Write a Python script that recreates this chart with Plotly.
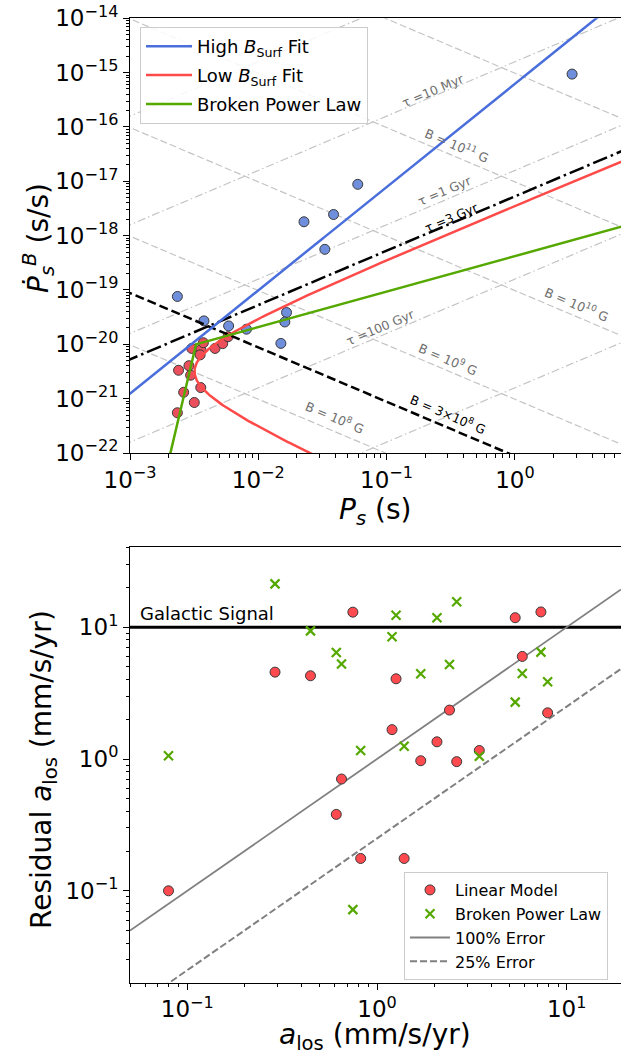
import numpy as np
import plotly.graph_objects as go

W, H = 621, 1055
FONT = "DejaVu Sans"

# ---------------- Top panel data ----------------
P_high = [2.79, 0.0596, 0.0386, 0.0227, 0.0330, 0.00234, 0.00377, 0.00587, 0.00809, 0.0166, 0.0161, 0.0150]
Pdot_high = [9.4e-16, 8.8e-18, 2.45e-18, 1.8e-18, 5.6e-19, 7.6e-20, 2.7e-20, 2.18e-20, 1.9e-20, 3.85e-20, 2.58e-20, 1.04e-20]
P_low = [3.03e-3, 3.57e-3, 3.73e-3, 3.52e-3, 4.60e-3, 5.28e-3, 5.81e-3, 2.88e-3, 2.39e-3, 2.97e-3, 3.56e-3, 2.62e-3, 3.17e-3, 2.34e-3]
Pdot_low = [8.4e-21, 8.0e-21, 1.07e-20, 6.4e-21, 8.4e-21, 1.03e-20, 1.38e-20, 4.04e-21, 3.33e-21, 2.70e-21, 1.60e-21, 1.31e-21, 8.5e-22, 5.5e-22]

# fit parameters
HIGH_LOGA, HIGH_SLOPE = -15.206, 1.9                     # Pdot = 10^A * P^slope
LOW_XC, LOW_Y0, LOW_W, LOW_T, LOW_K = -3.219, -20.467, 0.726, 0.045, 0.995  # log-space hyperbola
BPL_PK, BPL_PDK, BPL_S_LO, BPL_S_HI = 10 ** -2.485, 1e-20, 10.0, 0.653

# reference lines
B_GRID = [1e8, 1e9, 1e10, 1e11, 1e12]          # Gauss
TAU_GRID_YR = [1e5, 1e7, 1e9, 1e11, 1e13]      # years
B_REF = 3e8
TAU_REF_YR = 3e9
YR = 3.156e7

# ---------------- Bottom panel data ----------------
a_los = [0.0796, 0.29, 0.446, 0.61, 0.65, 0.746, 0.82, 1.20, 1.26, 1.39, 1.70, 2.07, 2.41, 2.63, 3.46, 5.35, 5.83, 7.31, 7.93]
resid_linear = [0.1, 4.56, 4.28, 0.38, 0.705, 13.0, 0.176, 1.67, 4.06, 0.176, 0.97, 1.35, 2.35, 0.955, 1.16, 11.8, 6.0, 13.05, 2.24]
resid_bpl = [1.06, 21.3, 9.38, 6.42, 5.25, 0.072, 1.16, 8.45, 12.3, 1.25, 4.43, 11.8, 5.21, 15.6, 1.05, 2.70, 4.45, 6.47, 3.85]
GALACTIC_SIGNAL = 10.0

# axis ranges (log10)
X1R = [-3.0, 0.827]
Y1R = [-22.0, -14.0]
X2R = [-1.302, 1.286]
Y2R = [-1.697, 1.606]

BLUE_L, BLUE_M = "#4a6fdc", "#6f8fdc"
RED_L, RED_M, RED_M2 = "#ff4a4a", "#ec4f5c", "#ff4a4f"
GREEN = "#55a800"
GRAY = "#c4c4c4"
EDGE = "#3a3a3a"


def B_line(P, B):
    return (B / 3.2e19) ** 2 / P


def tau_line(P, tau_yr):
    return P / (2 * tau_yr * YR)


fig = go.Figure()
P_grid = np.logspace(X1R[0] - 0.05, X1R[1] + 0.05, 300)

# gray reference lines
for B in B_GRID:
    fig.add_trace(go.Scatter(x=P_grid, y=B_line(P_grid, B), mode="lines", xaxis="x", yaxis="y",
                             line=dict(color=GRAY, width=1.2, dash="7px,3px"), showlegend=False, hoverinfo="skip"))
for tau in TAU_GRID_YR:
    fig.add_trace(go.Scatter(x=P_grid, y=tau_line(P_grid, tau), mode="lines", xaxis="x", yaxis="y",
                             line=dict(color=GRAY, width=1.2, dash="8px,3px,1.5px,3px"), showlegend=False, hoverinfo="skip"))

# points
fig.add_trace(go.Scatter(x=P_high, y=Pdot_high, mode="markers", xaxis="x", yaxis="y", showlegend=False,
                         marker=dict(size=10, color=BLUE_M, line=dict(color=EDGE, width=1))))
fig.add_trace(go.Scatter(x=P_low, y=Pdot_low, mode="markers", xaxis="x", yaxis="y", showlegend=False,
                         marker=dict(size=10, color=RED_M, line=dict(color=EDGE, width=1))))

# black reference lines
fig.add_trace(go.Scatter(x=P_grid, y=B_line(P_grid, B_REF), mode="lines", xaxis="x", yaxis="y",
                         line=dict(color="black", width=2.5, dash="9px,4px"), showlegend=False, hoverinfo="skip"))
fig.add_trace(go.Scatter(x=P_grid, y=tau_line(P_grid, TAU_REF_YR), mode="lines", xaxis="x", yaxis="y",
                         line=dict(color="black", width=2.5, dash="15px,4px,2.5px,4px"), showlegend=False, hoverinfo="skip"))

# fits
fig.add_trace(go.Scatter(x=P_grid, y=10 ** HIGH_LOGA * P_grid ** HIGH_SLOPE, mode="lines", xaxis="x", yaxis="y",
                         name="High <i>B</i><sub>Surf</sub> Fit", legend="legend", legendgroup="g1",
                         line=dict(color=BLUE_L, width=2.5)))
Yl = np.linspace(-22.3, -16.2, 500)
dl = Yl - LOW_Y0
Xl = LOW_XC + LOW_T * dl + LOW_K * np.sqrt(LOW_W ** 2 + dl ** 2)
fig.add_trace(go.Scatter(x=10 ** Xl, y=10 ** Yl, mode="lines", xaxis="x", yaxis="y",
                         name="Low <i>B</i><sub>Surf</sub> Fit", legend="legend", legendgroup="g2",
                         line=dict(color=RED_L, width=2.5)))
P_lo = np.logspace(np.log10(BPL_PK) - 0.3, np.log10(BPL_PK), 50)
P_hi = np.logspace(np.log10(BPL_PK), X1R[1] + 0.05, 100)
P_bpl = np.concatenate([P_lo, P_hi[1:]])
Pdot_bpl = np.where(P_bpl <= BPL_PK, BPL_PDK * (P_bpl / BPL_PK) ** BPL_S_LO, BPL_PDK * (P_bpl / BPL_PK) ** BPL_S_HI)
fig.add_trace(go.Scatter(x=P_bpl, y=Pdot_bpl, mode="lines", xaxis="x", yaxis="y",
                         name="Broken Power Law", legend="legend", legendgroup="g3",
                         line=dict(color=GREEN, width=2.5)))

# ---------------- bottom panel ----------------
ax_lim = np.array([10 ** X2R[0], 10 ** X2R[1]])
fig.add_trace(go.Scatter(x=ax_lim, y=[GALACTIC_SIGNAL, GALACTIC_SIGNAL], mode="lines", xaxis="x2", yaxis="y2",
                         line=dict(color="black", width=3), showlegend=False, hoverinfo="skip"))
a_grid = np.logspace(X2R[0], X2R[1], 50)
fig.add_trace(go.Scatter(x=a_grid, y=a_grid, mode="lines", xaxis="x2", yaxis="y2",
                         name="100% Error", legend="legend2", line=dict(color="#808080", width=1.8)))
fig.add_trace(go.Scatter(x=a_grid, y=0.25 * a_grid, mode="lines", xaxis="x2", yaxis="y2",
                         name="25% Error", legend="legend2", line=dict(color="#808080", width=2, dash="7px,3px")))
fig.add_trace(go.Scatter(x=a_los, y=resid_linear, mode="markers", xaxis="x2", yaxis="y2",
                         name="Linear Model", legend="legend2",
                         marker=dict(size=10, color=RED_M2, line=dict(color=EDGE, width=1))))
fig.add_trace(go.Scatter(x=a_los, y=resid_bpl, mode="markers", xaxis="x2", yaxis="y2",
                         name="Broken Power Law", legend="legend2",
                         marker=dict(size=9, symbol="x-thin", color=GREEN, line=dict(color=GREEN, width=2.2))))

# legend order for bottom
fig.data[-4].legendrank = 3
fig.data[-3].legendrank = 4
fig.data[-2].legendrank = 1
fig.data[-1].legendrank = 2

# ---------------- annotations on top panel ----------------
ANG = np.degrees(np.arctan((54.3) / (128.3)))
ann = []


def line_label(text, P, Pdot, angle, shift, color, size=12.5):
    ann.append(dict(x=np.log10(P), y=np.log10(Pdot), xref="x", yref="y", text=text, showarrow=False,
                    xanchor="center", yanchor="middle",
                    textangle=angle, yshift=shift, font=dict(family=FONT, size=size, color=color)))


LG = "#6e6e6e"
line_label("τ =10 Myr", 0.231, tau_line(0.231, 1e7), -ANG, 6, LG)
line_label("τ =1 Gyr", 0.285, tau_line(0.285, 1e9), -ANG, 10, LG)
line_label("τ =100 Gyr", 0.0889, tau_line(0.0889, 1e11), -ANG, 9, LG)
line_label("τ =3 Gyr", 0.3216, tau_line(0.3216, TAU_REF_YR), -ANG, 6, "black")
line_label("B = 10<sup>11</sup> G", 0.352, B_line(0.352, 1e11), ANG, 12, LG)
line_label("B = 10<sup>10</sup> G", 3.03, B_line(3.03, 1e10), ANG, 13, LG)
line_label("B = 10<sup>9</sup> G", 0.303, B_line(0.303, 1e9), ANG, 12, LG)
line_label("B = 10<sup>8</sup> G", 0.0396, B_line(0.0396, 1e8), ANG, 15, LG)
line_label("B = 3×10<sup>8</sup> G", 0.303, B_line(0.303, B_REF), ANG, 14, "black")

ann.append(dict(xref="x2 domain", yref="y2", x=0.016, y=np.log10(GALACTIC_SIGNAL), text="Galactic Signal",
                xanchor="left", yanchor="bottom", yshift=1, showarrow=False,
                font=dict(family=FONT, size=18, color="black")))

# axis titles as annotations
TF = 28


def title(text, px, py, angle=0):
    ann.append(dict(xref="paper", yref="paper", x=px / W, y=1 - py / H, textangle=angle, showarrow=False,
                    xanchor="center", yanchor="middle", text=text,
                    font=dict(family=FONT, size=TF, color="black")))


title("<i>Ṗ</i><sub><i>s</i></sub><sup><i>B</i></sup> (s/s)", 38, 238, -90)
title("<i>P</i><sub><i>s</i></sub> (s)", 375, 511)
title("Residual <i>a</i><sub>los</sub> (mm/s/yr)", 43, 770, -90)
title("<i>a</i><sub>los</sub> (mm/s/yr)", 375, 1036)


def pow_label(n):
    return "10<sup>" + ("−" if n < 0 else "") + str(abs(n)) + "</sup>"


def log_axis(rng, major, domain, anchor):
    minor_vals = [k * 10.0 ** n for n in range(int(np.floor(rng[0])) - 1, int(np.ceil(rng[1])) + 1)
                  for k in range(2, 10) if rng[0] <= np.log10(k * 10.0 ** n) <= rng[1]]
    return dict(type="log", range=rng, domain=domain, anchor=anchor,
                tickmode="array", tickvals=[10.0 ** n for n in major], ticktext=[pow_label(n) for n in major],
                ticks="outside", ticklen=6, tickwidth=1, tickcolor="black",
                tickfont=dict(family=FONT, size=23, color="black"),
                minor=dict(tickmode="array", tickvals=minor_vals, ticks="outside", ticklen=3.5,
                           tickwidth=0.8, tickcolor="black", showgrid=False),
                showgrid=False, zeroline=False, showline=True, linecolor="black", linewidth=1, mirror=True,
                automargin=False)


XD = [130 / W, 1.0]
fig.update_layout(
    width=W, height=H, margin=dict(l=0, r=0, t=0, b=0),
    paper_bgcolor="white", plot_bgcolor="white",
    xaxis=log_axis(X1R, [-3, -2, -1, 0], XD, "y"),
    yaxis=log_axis(Y1R, list(range(-22, -13)), [1 - 453 / H, 1 - 18.3 / H], "x"),
    xaxis2=log_axis(X2R, [-1, 0, 1], XD, "y2"),
    yaxis2=log_axis(Y2R, [-1, 0, 1], [1 - 982.7 / H, 1 - 547.3 / H], "x2"),
    legend=dict(x=140 / W, y=1 - 27 / H, xanchor="left", yanchor="top", bgcolor="rgba(255,255,255,0.85)",
                bordercolor="#cccccc", borderwidth=1, font=dict(family=FONT, size=18, color="black"),
                itemwidth=46, tracegroupgap=2.5),
    legend2=dict(x=404 / W, y=1 - 872 / H, xanchor="left", yanchor="top", bgcolor="rgba(255,255,255,0.85)",
                 bordercolor="#cccccc", borderwidth=1, font=dict(family=FONT, size=16, color="black"),
                 itemwidth=40, tracegroupgap=0),
    annotations=ann,
    font=dict(family=FONT),
)

fig.write_html("out.html")
